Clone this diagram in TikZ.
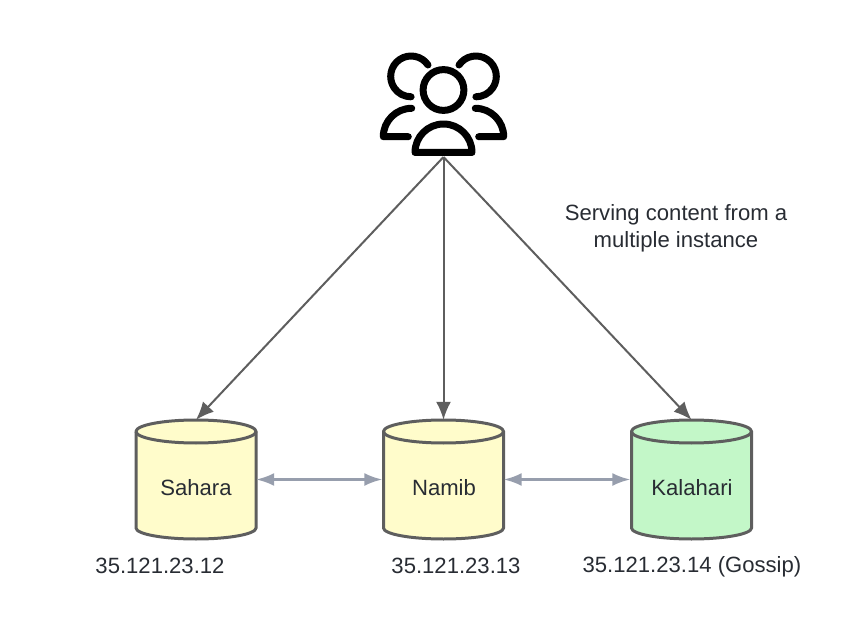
\documentclass[tikz,border=0pt]{standalone}
\usepackage{fontspec}
\setmainfont{Liberation Sans}
\usetikzlibrary{arrows.meta}
\definecolor{edgegrey}{HTML}{5E5E5E}
\definecolor{linkgrey}{HTML}{979EAD}
\definecolor{textgrey}{HTML}{282C33}
\definecolor{paleyellow}{HTML}{FFFCCB}
\definecolor{palegreen}{HTML}{C3F7C8}
\tikzset{
  x=1pt,y=-1pt,
  lbl/.style={font=\fontsize{22.1}{27}\selectfont,text=textgrey,inner sep=0pt,align=center},
  iconline/.style={draw=black,line width=7pt,line cap=round,line join=round},
  cylbox/.style={inner sep=0pt,minimum width=120pt,minimum height=119pt},
  cylline/.style={draw=edgegrey,line width=3pt},
  flow/.style={draw=edgegrey,line width=2pt,-{Latex[length=18pt,width=15pt]}},
  peer/.style={draw=linkgrey,line width=2.4pt,{Latex[length=18pt,width=13pt]}-{Latex[length=18pt,width=13pt]}}
}
\newcommand{\drum}[2]{%
  \filldraw[cylline,fill=#2] (#1-60,431.5) -- (#1-60,528) arc[start angle=180,end angle=360,x radius=60,y radius=-11] -- (#1+60,431.5)
     arc[start angle=0,end angle=180,x radius=60,y radius=-11.5] -- cycle;
  \draw[cylline] (#1-60,431.5) arc[start angle=180,end angle=360,x radius=60,y radius=-11.5];
}
\begin{document}
\begin{tikzpicture}
\useasboundingbox (0,0) rectangle (852,639);
% people icon
\draw[iconline] (443.5,90) circle[radius=20.4];
\draw[iconline] (415,152.5) arc[start angle=180,end angle=0,x radius=28.5,y radius=-28.5] -- cycle;
\draw[iconline] (428,65) arc[start angle=34,end angle=270,x radius=20.4,y radius=-20.4];
\draw[iconline] (459,65) arc[start angle=146,end angle=-90,x radius=20.4,y radius=-20.4];
\draw[iconline] (411.7,108.3) arc[start angle=90,end angle=180,x radius=28.4,y radius=-28.4] -- (408.3,136.7);
\draw[iconline] (475.3,108.3) arc[start angle=90,end angle=0,x radius=28.4,y radius=-28.4] -- (478.7,136.7);
\coordinate (people) at (443.5,157);
% cylinders
\drum{196}{paleyellow}
\drum{443.5}{paleyellow}
\drum{691.5}{palegreen}
\node[cylbox] (sahara) at (196,479.5) {};
\node[cylbox] (namib) at (443.5,479.5) {};
\node[cylbox] (kalahari) at (691.5,479.5) {};
\node[lbl] (sname) at (196,488) {Sahara};
\node[lbl] (nname) at (444,488) {Namib};
\node[lbl] (kname) at (692,488) {Kalahari};
\node[lbl] (sip) at (160,566) {35.121.23.12};
\node[lbl] (nip) at (456,566) {35.121.23.13};
\node[lbl] (kip) at (692,566.5) {35.121.23.14 (Gossip)};
\node[lbl] (note) at (676,228) {Serving content from a\\multiple instance};
% connectors
\draw[flow] (people) -- (sahara.north);
\draw[flow] (people) -- (namib.north);
\draw[flow] (people) -- (kalahari.north);
\draw[peer] (sahara.east) -- ([xshift=-1pt]namib.west);
\draw[peer] (namib.east) -- ([xshift=-1pt]kalahari.west);
\end{tikzpicture}
\end{document}
